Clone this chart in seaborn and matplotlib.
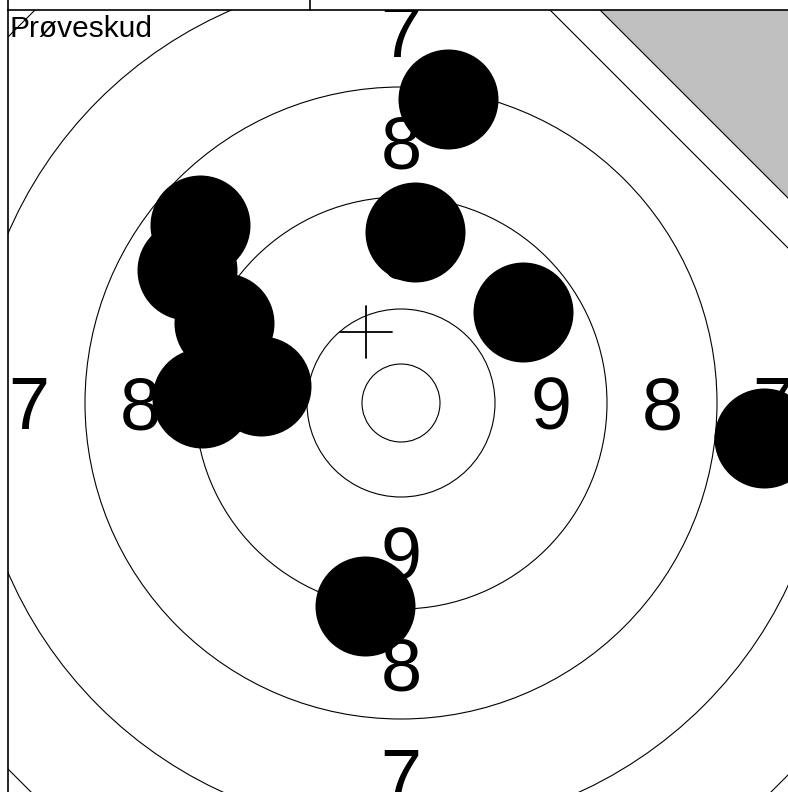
import matplotlib
matplotlib.use("Agg")
import matplotlib.pyplot as plt
import seaborn as sns
import pandas as pd
from matplotlib.patches import Circle, Polygon

# Skiveringe (radius) og skud (x, y) i skive-enheder, centrum i (0, 0)
ring_radier = [39, 94, 206, 316, 428]
ring_tal = ["9", "8", "7"]
ring_tal_afstand = [150, 261, 372]

skud_x = [47, 14, 122, -201, -214, -177, -140, -199, -36, 363]
skud_y = [304, 171, 91, 178, 133, 80, 17, 5, -203, -35]
skud_radius = 50

kryds = (-35, 71)
titel = "Prøveskud"

sns.set_style("white")
plt.rcParams["font.family"] = ["Liberation Sans", "DejaVu Sans"]

fig = plt.figure(figsize=(7.88, 7.92), dpi=100)
ax = fig.add_axes([8 / 788, 0, 780 / 788, 782 / 792])
ax.set_xlim(-393, 387)
ax.set_ylim(-389, 393)
ax.set_aspect("equal")
ax.set_xticks([])
ax.set_yticks([])
for side in ["right", "bottom"]:
    ax.spines[side].set_visible(False)
for side in ["top", "left"]:
    ax.spines[side].set_linewidth(1.2)
    ax.spines[side].set_color("black")

for r in ring_radier:
    ax.add_patch(Circle((0, 0), r, fill=False, ec="black", lw=0.8, zorder=1))

# ruderamme og markering for proveskud
ax.add_patch(Polygon([(-759, 0), (0, 759), (759, 0), (0, -759)], closed=True,
                     fill=False, ec="black", lw=0.8, zorder=1))
ax.add_patch(Polygon([(42, 500), (700, 500), (700, -158)], closed=True,
                     fc="white", ec="black", lw=0.8, zorder=2))
ax.add_patch(Polygon([(92, 500), (700, 500), (700, -108)], closed=True,
                     fc="#c0c0c0", ec="black", lw=0.8, zorder=2))

# ringtal
fs = 53
halv = 0.358 * fs * 100 / 72
for tal, d in zip(ring_tal, ring_tal_afstand):
    for px, py in [(d, 0), (-d, 0), (0, d), (0, -d)]:
        ax.text(px, py - halv, tal, fontsize=fs, ha="center", va="baseline",
                color="black", zorder=3, clip_on=True)

# skud
df = pd.DataFrame({"x": skud_x, "y": skud_y})
diam_pt = 2 * skud_radius * 72 / 100
sns.scatterplot(data=df, x="x", y="y", s=diam_pt ** 2, color="black",
                linewidth=0, ax=ax, zorder=4, legend=False)

# kryds for gennemsnit
kx, ky = kryds
ax.plot([kx - 26, kx + 26], [ky, ky], color="black", lw=1.3, zorder=5)
ax.plot([kx, kx], [ky - 26, ky + 26], color="black", lw=1.3, zorder=5)

ax.text(-391, 388, titel, fontsize=21.5, ha="left", va="top", color="black",
        zorder=6)

# tabelhoved over skiven
ax.plot([-393, -393], [393, 403], color="black", lw=1.2, clip_on=False)
ax.plot([-91, -91], [393, 403], color="black", lw=1.2, clip_on=False)

ax.set_xlabel("")
ax.set_ylabel("")
fig.savefig("out.png", dpi=100)
